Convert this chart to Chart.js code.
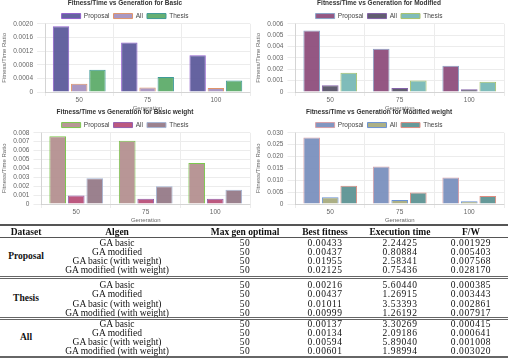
<!DOCTYPE html>
<html>
<head>
<meta charset="utf-8">
<script src="https://cdn.jsdelivr.net/npm/chart.js@4.4.0/dist/chart.umd.min.js"></script>
<style>
  body { margin: 0; background: #fff; width: 508px; height: 359px; overflow: hidden; position: relative; }
  .box { position: absolute; width: 254px; }
  #tbl { position: absolute; left: 0; top: 224px; width: 508px; font-family: "Liberation Serif", "Times New Roman", serif; font-size: 9.5px; color: #111; }
  .cell { position: absolute; width: 140px; margin-left: -70px; text-align: center; line-height: 10px; white-space: nowrap; }
  .num { letter-spacing: 0.6px; }
  .hr { position: absolute; left: 0; width: 508px; }
</style>
</head>
<body>
<div class="box" style="left:0;top:-1px;height:113px"><canvas id="chartBasic"></canvas></div>
<div class="box" style="left:254px;top:-1px;height:113px"><canvas id="chartModified"></canvas></div>
<div class="box" style="left:0;top:108px;height:116px"><canvas id="chartBasicWeight"></canvas></div>
<div class="box" style="left:254px;top:108px;height:116px"><canvas id="chartModifiedWeight"></canvas></div>
<div id="tbl"></div>
<script>
// chart data
const generations = ["50", "75", "100"];
const seriesNames = ["Proposal", "All", "Thesis"];

const basicProposal = [0.00193, 0.00145, 0.00108];
const basicAll = [0.00024, 0.00013, 0.00012];
const basicThesis = [0.00065, 0.00044, 0.00034];

const modifiedProposal = [0.0054, 0.0038, 0.0023];
const modifiedAll = [0.0006, 0.00035, 0.00025];
const modifiedThesis = [0.0017, 0.00102, 0.0009];

const basicWeightProposal = [0.0076, 0.0071, 0.0046];
const basicWeightAll = [0.00095, 0.0006, 0.0006];
const basicWeightThesis = [0.0029, 0.002, 0.0016];

const modifiedWeightProposal = [0.028, 0.0158, 0.0112];
const modifiedWeightAll = [0.0028, 0.0017, 0.0012];
const modifiedWeightThesis = [0.0077, 0.0048, 0.0034];

// table data
const tableDatasets = ["Proposal", "Thesis", "All"];
const algens = ["GA basic", "GA modified", "GA basic (with weight)", "GA modified (with weight)"];
const maxGenOptimal = ["50", "50", "50", "50"];
const bestFitness = [
    ["0.00433", "0.00437", "0.01955", "0.02125"],
    ["0.00216", "0.00437", "0.01011", "0.00999"],
    ["0.00137", "0.00134", "0.00594", "0.00601"]
];
const executionTime = [
    ["2.24425", "0.80884", "2.58341", "0.75436"],
    ["5.60440", "1.26915", "3.53393", "1.26192"],
    ["3.30269", "2.09186", "5.89040", "1.98994"]
];
const fitnessPerTime = [
    ["0.001929", "0.005403", "0.007568", "0.028170"],
    ["0.000385", "0.003443", "0.002861", "0.007917"],
    ["0.000415", "0.000641", "0.001008", "0.003020"]
];

Chart.defaults.font.family = "'Liberation Sans', Arial, sans-serif";
Chart.defaults.font.size = 6.5;
Chart.defaults.color = "#666";

function makeChart(id, title, values, colors, yMax, yStep) {
    let ctx = document.getElementById(id);
    new Chart(ctx, {
        type: 'bar',
        data: {
            labels: generations,
            datasets: seriesNames.map(function(name, i) {
                return {
                    label: name,
                    data: values[i],
                    backgroundColor: colors[i][0],
                    borderColor: colors[i][1],
                    borderWidth: 1
                };
            })
        },
        options: {
            animation: false,
            responsive: true,
            maintainAspectRatio: false,
            layout: { padding: { left: 0, right: 4, top: 0, bottom: 0 } },
            plugins: {
                title: {
                    display: true,
                    text: title,
                    color: "#333",
                    font: { size: 6.5, weight: 'bold' },
                    padding: { top: 0, bottom: 2 }
                },
                legend: {
                    maxHeight: 15,
                    labels: { boxWidth: 19, boxHeight: 5, padding: 4, color: "#444" }
                }
            },
            scales: {
                x: {
                    grid: { color: "#ececec", tickLength: 4 },
                    ticks: { padding: 0 },
                    title: { display: true, text: "Generation", font: { size: 6 }, padding: { top: 1, bottom: 0 } }
                },
                y: {
                    min: 0,
                    max: yMax,
                    grid: { color: "#ececec" },
                    ticks: { stepSize: yStep, padding: 4, autoSkip: false },
                    title: { display: true, text: "Fitness/Time Ratio", font: { size: 6 }, padding: 1 }
                }
            }
        }
    });
}

makeChart("chartBasic", "Fitness/Time vs Generation for Basic",
    [basicProposal, basicAll, basicThesis],
    [["rgba(88,86,152,0.92)", "#9060cc"], ["rgba(165,146,192,0.95)", "#e0956a"], ["rgba(94,172,106,0.95)", "#3f9a98"]],
    0.002, 0.0004);
makeChart("chartModified", "Fitness/Time vs Generation for Modified",
    [modifiedProposal, modifiedAll, modifiedThesis],
    [["rgba(142,78,124,0.95)", "#8aa4c8"], ["rgba(88,84,104,0.95)", "#8462a8"], ["rgba(120,184,182,0.95)", "#a9c46c"]],
    0.006, 0.001);
makeChart("chartBasicWeight", "Fitness/Time vs Generation for Basic weight",
    [basicWeightProposal, basicWeightAll, basicWeightThesis],
    [["rgba(180,144,144,0.95)", "#7cc84e"], ["rgba(184,80,120,0.95)", "#9462b0"], ["rgba(150,122,136,0.95)", "#a6b6d4"]],
    0.008, 0.001);
makeChart("chartModifiedWeight", "Fitness/Time vs Generation for Modified weight",
    [modifiedWeightProposal, modifiedWeightAll, modifiedWeightThesis],
    [["rgba(122,144,190,0.95)", "#d8a0a8"], ["rgba(168,172,128,0.95)", "#6a92d4"], ["rgba(94,148,148,0.95)", "#e08c80"]],
    0.03, 0.005);

// table
let tbl = document.getElementById("tbl");
let colX = [26, 117, 245, 325, 400, 471];
let headers = ["Dataset", "Algen", "Max gen optimal", "Best fitness", "Execution time", "F/W"];

function addCell(text, x, y, cls, bold) {
    let d = document.createElement("div");
    d.className = "cell " + (cls || "");
    d.style.left = x + "px";
    d.style.top = y + "px";
    if (bold) d.style.fontWeight = "bold";
    d.textContent = text;
    tbl.appendChild(d);
}
function addLine(y, style) {
    let d = document.createElement("div");
    d.className = "hr";
    d.style.top = y + "px";
    d.style.borderTop = style;
    tbl.appendChild(d);
}

addLine(0, "2px solid #555");
headers.forEach(function(h, i) { addCell(h, colX[i], 3, "", true); });
addLine(13, "1px solid #555");

let groupTop = [14, 56, 94.5];
let rowStep = [9, 9.3, 9.3];
let nameTop = [27, 69, 108];
let lineTop = [0, 52, 93];
tableDatasets.forEach(function(name, g) {
    let top = groupTop[g];
    if (g > 0) addLine(lineTop[g], "3px double #666");
    addCell(name, colX[0], nameTop[g], "", true);
    algens.forEach(function(a, r) {
        let y = top + r * rowStep[g];
        addCell(a, colX[1], y);
        addCell(maxGenOptimal[r], colX[2], y, "num");
        addCell(bestFitness[g][r], colX[3], y, "num");
        addCell(executionTime[g][r], colX[4], y, "num");
        addCell(fitnessPerTime[g][r], colX[5], y, "num");
    });
});
addLine(132, "2px solid #666");
</script>
</body>
</html>
